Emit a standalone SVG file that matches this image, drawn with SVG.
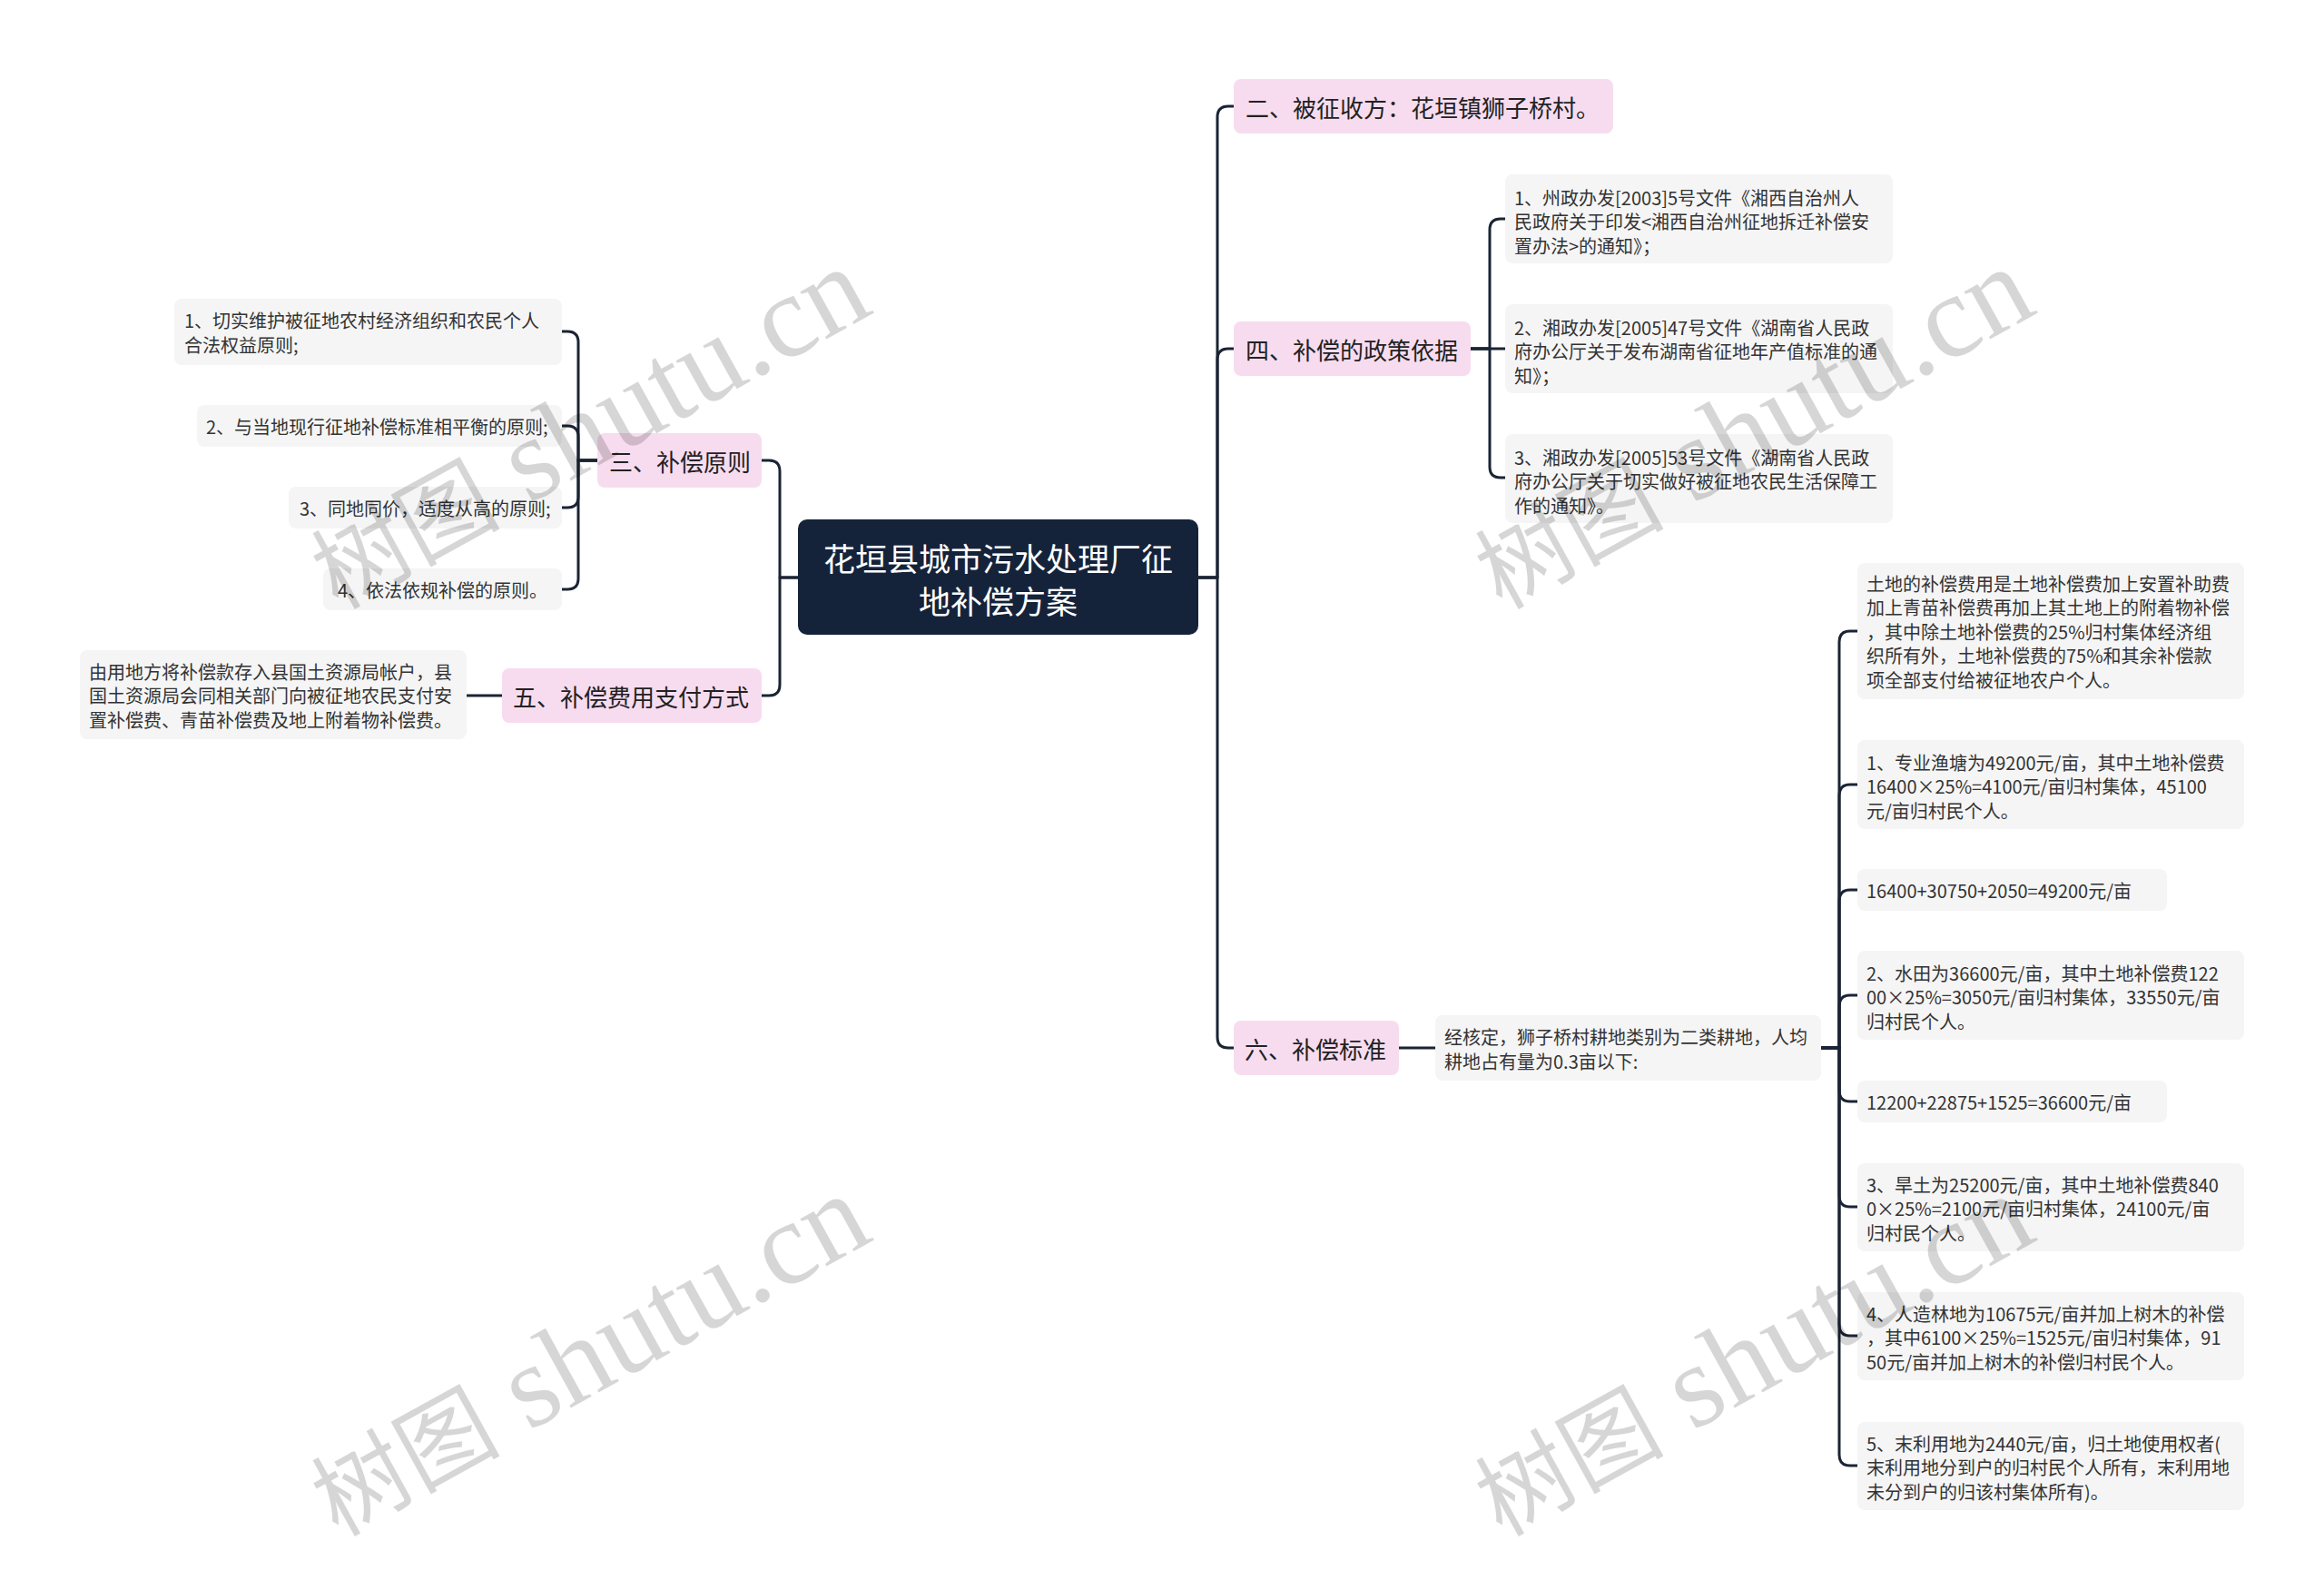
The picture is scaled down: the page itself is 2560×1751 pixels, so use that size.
<svg xmlns="http://www.w3.org/2000/svg" width="2560" height="1751" viewBox="0 0 2560 1751">
<style>
.bg{fill:#ffffff}
.root rect{fill:#15233a}
.root text{fill:#ffffff;font-size:35px}
.main rect{fill:#f7dcef}
.main text{fill:#222222;font-size:26px}
.leaf rect{fill:#f5f5f5}
.leaf text{fill:#333333;font-size:20px}
text{font-family:"Noto Sans CJK SC","Noto Sans",sans-serif;dominant-baseline:central}
.conn path{fill:none;stroke:#1b2434;stroke-width:3;stroke-linecap:round;stroke-linejoin:round}
.wm{fill:#000000;fill-opacity:0.16}
.wm .cjk{font-family:"Noto Sans CJK SC",sans-serif;font-size:104px}
.wm .lat{font-family:"Liberation Serif",serif;font-size:130px}
</style>
<rect class="bg" x="0" y="0" width="2560" height="1751"/>

<g id="connectors" class="conn">
  <path d="M879,636 H859 V519 Q859,507 847,507 H839"/>
  <path d="M879,636 H859 V754 Q859,766 847,766 H839"/>
  <path d="M658,507 H637 V377 Q637,365 625,365 H619"/>
  <path d="M658,507 H637 V481 Q637,469 625,469 H619"/>
  <path d="M658,507 H637 V547 Q637,559 625,559 H619"/>
  <path d="M658,507 H637 V637 Q637,649 625,649 H619"/>
  <path d="M553,766 H514"/>
  <path d="M1320,636 H1341 V129 Q1341,117 1353,117 H1359"/>
  <path d="M1320,636 H1341 V396 Q1341,384 1353,384 H1359"/>
  <path d="M1320,636 H1341 V1142 Q1341,1154 1353,1154 H1359"/>
  <path d="M1620,384 H1641 V253 Q1641,241 1653,241 H1658"/>
  <path d="M1620,384 H1658"/>
  <path d="M1620,384 H1641 V514 Q1641,526 1653,526 H1658"/>
  <path d="M1541,1154 H1581"/>
  <path d="M2006,1154 H2026 V707 Q2026,695 2038,695 H2046"/>
  <path d="M2006,1154 H2026 V876 Q2026,864 2038,864 H2046"/>
  <path d="M2006,1154 H2026 V992 Q2026,980 2038,980 H2046"/>
  <path d="M2006,1154 H2026 V1108 Q2026,1096 2038,1096 H2046"/>
  <path d="M2006,1154 H2026 V1201 Q2026,1213 2038,1213 H2046"/>
  <path d="M2006,1154 H2026 V1317 Q2026,1329 2038,1329 H2046"/>
  <path d="M2006,1154 H2026 V1459 Q2026,1471 2038,1471 H2046"/>
  <path d="M2006,1154 H2026 V1602 Q2026,1614 2038,1614 H2046"/>
</g>

<g id="root" class="root">
  <rect x="879" y="572" width="441" height="127" rx="10"/>
  <text x="1099.5" y="613" text-anchor="middle">花垣县城市污水处理厂征</text>
  <text x="1099.5" y="660" text-anchor="middle">地补偿方案</text>
</g>

<g id="n-san" class="main">
  <rect x="658" y="477" width="181" height="60" rx="8"/>
  <text x="671" y="507">三、补偿原则</text>
</g>
<g id="n-san-1" class="leaf">
  <rect x="192" y="329" width="427" height="73" rx="8"/>
  <text x="203" y="352">1、切实维护被征地农村经济组织和农民个人</text>
  <text x="203" y="379">合法权益原则;</text>
</g>
<g id="n-san-2" class="leaf">
  <rect x="217" y="446" width="402" height="46" rx="8"/>
  <text x="227" y="469">2、与当地现行征地补偿标准相平衡的原则;</text>
</g>
<g id="n-san-3" class="leaf">
  <rect x="318" y="536" width="301" height="46" rx="8"/>
  <text x="330" y="559">3、同地同价，适度从高的原则;</text>
</g>
<g id="n-san-4" class="leaf">
  <rect x="356" y="626" width="263" height="46" rx="8"/>
  <text x="372" y="649">4、依法依规补偿的原则。</text>
</g>

<g id="n-wu" class="main">
  <rect x="553" y="736" width="286" height="60" rx="8"/>
  <text x="565" y="766">五、补偿费用支付方式</text>
</g>
<g id="n-wu-1" class="leaf">
  <rect x="88" y="716" width="426" height="98" rx="8"/>
  <text x="98" y="739">由用地方将补偿款存入县国土资源局帐户，县</text>
  <text x="98" y="765.5">国土资源局会同相关部门向被征地农民支付安</text>
  <text x="98" y="792">置补偿费、青苗补偿费及地上附着物补偿费。</text>
</g>

<g id="n-er" class="main">
  <rect x="1359" y="87" width="418" height="60" rx="8"/>
  <text x="1372" y="117">二、被征收方：花垣镇狮子桥村。</text>
</g>

<g id="n-si" class="main">
  <rect x="1359" y="354" width="261" height="60" rx="8"/>
  <text x="1372" y="384">四、补偿的政策依据</text>
</g>
<g id="n-si-1" class="leaf">
  <rect x="1658" y="192" width="427" height="98" rx="8"/>
  <text x="1668" y="217">1、州政办发[2003]5号文件《湘西自治州人</text>
  <text x="1668" y="243.5">民政府关于印发&lt;湘西自治州征地拆迁补偿安</text>
  <text x="1668" y="270">置办法&gt;的通知》；</text>
</g>
<g id="n-si-2" class="leaf">
  <rect x="1658" y="335" width="427" height="98" rx="8"/>
  <text x="1668" y="360">2、湘政办发[2005]47号文件《湖南省人民政</text>
  <text x="1668" y="386.5">府办公厅关于发布湖南省征地年产值标准的通</text>
  <text x="1668" y="413">知》；</text>
</g>
<g id="n-si-3" class="leaf">
  <rect x="1658" y="478" width="427" height="98" rx="8"/>
  <text x="1668" y="503">3、湘政办发[2005]53号文件《湖南省人民政</text>
  <text x="1668" y="529.5">府办公厅关于切实做好被征地农民生活保障工</text>
  <text x="1668" y="556">作的通知》。</text>
</g>

<g id="n-liu" class="main">
  <rect x="1359" y="1124" width="182" height="60" rx="8"/>
  <text x="1371" y="1154">六、补偿标准</text>
</g>
<g id="n-liu-0" class="leaf">
  <rect x="1581" y="1118" width="425" height="72" rx="8"/>
  <text x="1591" y="1141">经核定，狮子桥村耕地类别为二类耕地，人均</text>
  <text x="1591" y="1168">耕地占有量为0.3亩以下:</text>
</g>
<g id="n-liu-1" class="leaf">
  <rect x="2046" y="620" width="426" height="150" rx="8"/>
  <text x="2056" y="642">土地的补偿费用是土地补偿费加上安置补助费</text>
  <text x="2056" y="668.5">加上青苗补偿费再加上其土地上的附着物补偿</text>
  <text x="2056" y="695">，其中除土地补偿费的25%归村集体经济组</text>
  <text x="2056" y="721.5">织所有外，土地补偿费的75%和其余补偿款</text>
  <text x="2056" y="748">项全部支付给被征地农户个人。</text>
</g>
<g id="n-liu-2" class="leaf">
  <rect x="2046" y="815" width="426" height="98" rx="8"/>
  <text x="2056" y="839">1、专业渔塘为49200元/亩，其中土地补偿费</text>
  <text x="2056" y="865.5">16400×25%=4100元/亩归村集体，45100</text>
  <text x="2056" y="892">元/亩归村民个人。</text>
</g>
<g id="n-liu-3" class="leaf">
  <rect x="2046" y="957" width="341" height="46" rx="8"/>
  <text x="2056" y="980">16400+30750+2050=49200元/亩</text>
</g>
<g id="n-liu-4" class="leaf">
  <rect x="2046" y="1047" width="426" height="98" rx="8"/>
  <text x="2056" y="1071">2、水田为36600元/亩，其中土地补偿费122</text>
  <text x="2056" y="1097.5">00×25%=3050元/亩归村集体，33550元/亩</text>
  <text x="2056" y="1124">归村民个人。</text>
</g>
<g id="n-liu-5" class="leaf">
  <rect x="2046" y="1190" width="341" height="46" rx="8"/>
  <text x="2056" y="1213">12200+22875+1525=36600元/亩</text>
</g>
<g id="n-liu-6" class="leaf">
  <rect x="2046" y="1281" width="426" height="97" rx="8"/>
  <text x="2056" y="1304">3、旱土为25200元/亩，其中土地补偿费840</text>
  <text x="2056" y="1330.5">0×25%=2100元/亩归村集体，24100元/亩</text>
  <text x="2056" y="1357">归村民个人。</text>
</g>
<g id="n-liu-7" class="leaf">
  <rect x="2046" y="1423" width="426" height="97" rx="8"/>
  <text x="2056" y="1446">4、人造林地为10675元/亩并加上树木的补偿</text>
  <text x="2056" y="1472.5">，其中6100×25%=1525元/亩归村集体，91</text>
  <text x="2056" y="1499">50元/亩并加上树木的补偿归村民个人。</text>
</g>
<g id="n-liu-8" class="leaf">
  <rect x="2046" y="1566" width="426" height="97" rx="8"/>
  <text x="2056" y="1589">5、末利用地为2440元/亩，归土地使用权者(</text>
  <text x="2056" y="1615.5">末利用地分到户的归村民个人所有，末利用地</text>
  <text x="2056" y="1642">未分到户的归该村集体所有)。</text>
</g>

<g id="watermarks" class="wm">
  <text transform="translate(372,672) rotate(-29)" style="dominant-baseline:alphabetic"><tspan class="cjk">树图</tspan><tspan class="lat"> shutu.cn</tspan></text>
  <text transform="translate(1654,672) rotate(-29)" style="dominant-baseline:alphabetic"><tspan class="cjk">树图</tspan><tspan class="lat"> shutu.cn</tspan></text>
  <text transform="translate(372,1693) rotate(-29)" style="dominant-baseline:alphabetic"><tspan class="cjk">树图</tspan><tspan class="lat"> shutu.cn</tspan></text>
  <text transform="translate(1654,1693) rotate(-29)" style="dominant-baseline:alphabetic"><tspan class="cjk">树图</tspan><tspan class="lat"> shutu.cn</tspan></text>
</g>
</svg>
